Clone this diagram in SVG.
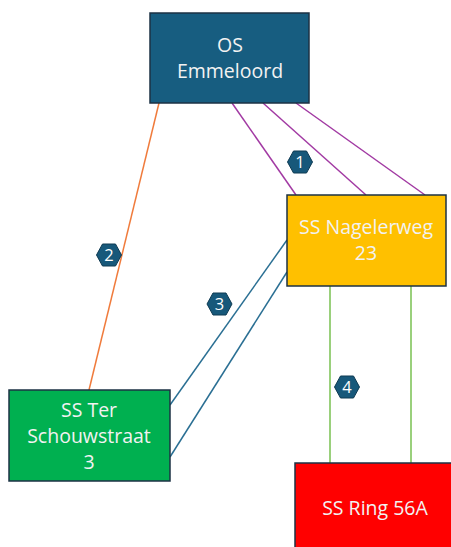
<svg xmlns="http://www.w3.org/2000/svg" width="451" height="547" viewBox="0 0 451 547">
<style>
.box{stroke:#1c3244;stroke-width:1.5}
.lbl{font-family:"Open Sans","Noto Sans",sans-serif;font-size:19.5px;fill:#f2f2f2;text-anchor:middle}
.hex{fill:#17587a;stroke:#0e3a52;stroke-width:1}
.num{font-family:"Open Sans","Noto Sans",sans-serif;font-size:16.5px;fill:#ffffff;text-anchor:middle}
.c{fill:none;stroke-width:1.5}
</style>
<defs>
<polygon id="hx" points="-12.5,0 -6.5,-11 6.5,-11 12.5,0 6.5,11 -6.5,11"/>
</defs>
<g id="connectors">
<line class="c" stroke="#a23aa3" x1="232" y1="103" x2="296" y2="195"/>
<line class="c" stroke="#a23aa3" x1="263" y1="103" x2="366" y2="195"/>
<line class="c" stroke="#a23aa3" x1="296" y1="103" x2="425" y2="195"/>
<line class="c" stroke="#f07b3c" x1="159" y1="103" x2="89" y2="390"/>
<line class="c" stroke="#2a6f93" x1="287" y1="240" x2="170" y2="405"/>
<line class="c" stroke="#2a6f93" x1="287" y1="272" x2="170" y2="457"/>
<line class="c" stroke="#78c150" x1="330" y1="286" x2="330" y2="463"/>
<line class="c" stroke="#78c150" x1="411" y1="286" x2="411" y2="463"/>
</g>
<g id="os">
<rect class="box" x="150" y="13" width="159" height="90" fill="#175d80"/>
<text class="lbl" x="230" y="52">OS</text>
<text class="lbl" x="230" y="78">Emmeloord</text>
</g>
<g id="nagelerweg">
<rect class="box" x="287" y="195" width="159" height="91" fill="#ffc000"/>
<text class="lbl" x="366" y="234">SS Nagelerweg</text>
<text class="lbl" x="366" y="260">23</text>
</g>
<g id="ter">
<rect class="box" x="9" y="390" width="161" height="91" fill="#00b050"/>
<text class="lbl" x="89" y="417">SS Ter</text>
<text class="lbl" x="89" y="443">Schouwstraat</text>
<text class="lbl" x="89" y="469">3</text>
</g>
<g id="ring">
<rect class="box" x="295" y="463" width="160" height="90" fill="#ff0000"/>
<text class="lbl" x="375" y="515">SS Ring 56A</text>
</g>
<g id="b1"><use href="#hx" class="hex" x="300" y="162"/><text class="num" x="300" y="168">1</text></g>
<g id="b2"><use href="#hx" class="hex" x="109" y="255"/><text class="num" x="109" y="261">2</text></g>
<g id="b3"><use href="#hx" class="hex" x="219.5" y="304"/><text class="num" x="219.5" y="310">3</text></g>
<g id="b4"><use href="#hx" class="hex" x="347" y="387"/><text class="num" x="347" y="393">4</text></g>
</svg>
